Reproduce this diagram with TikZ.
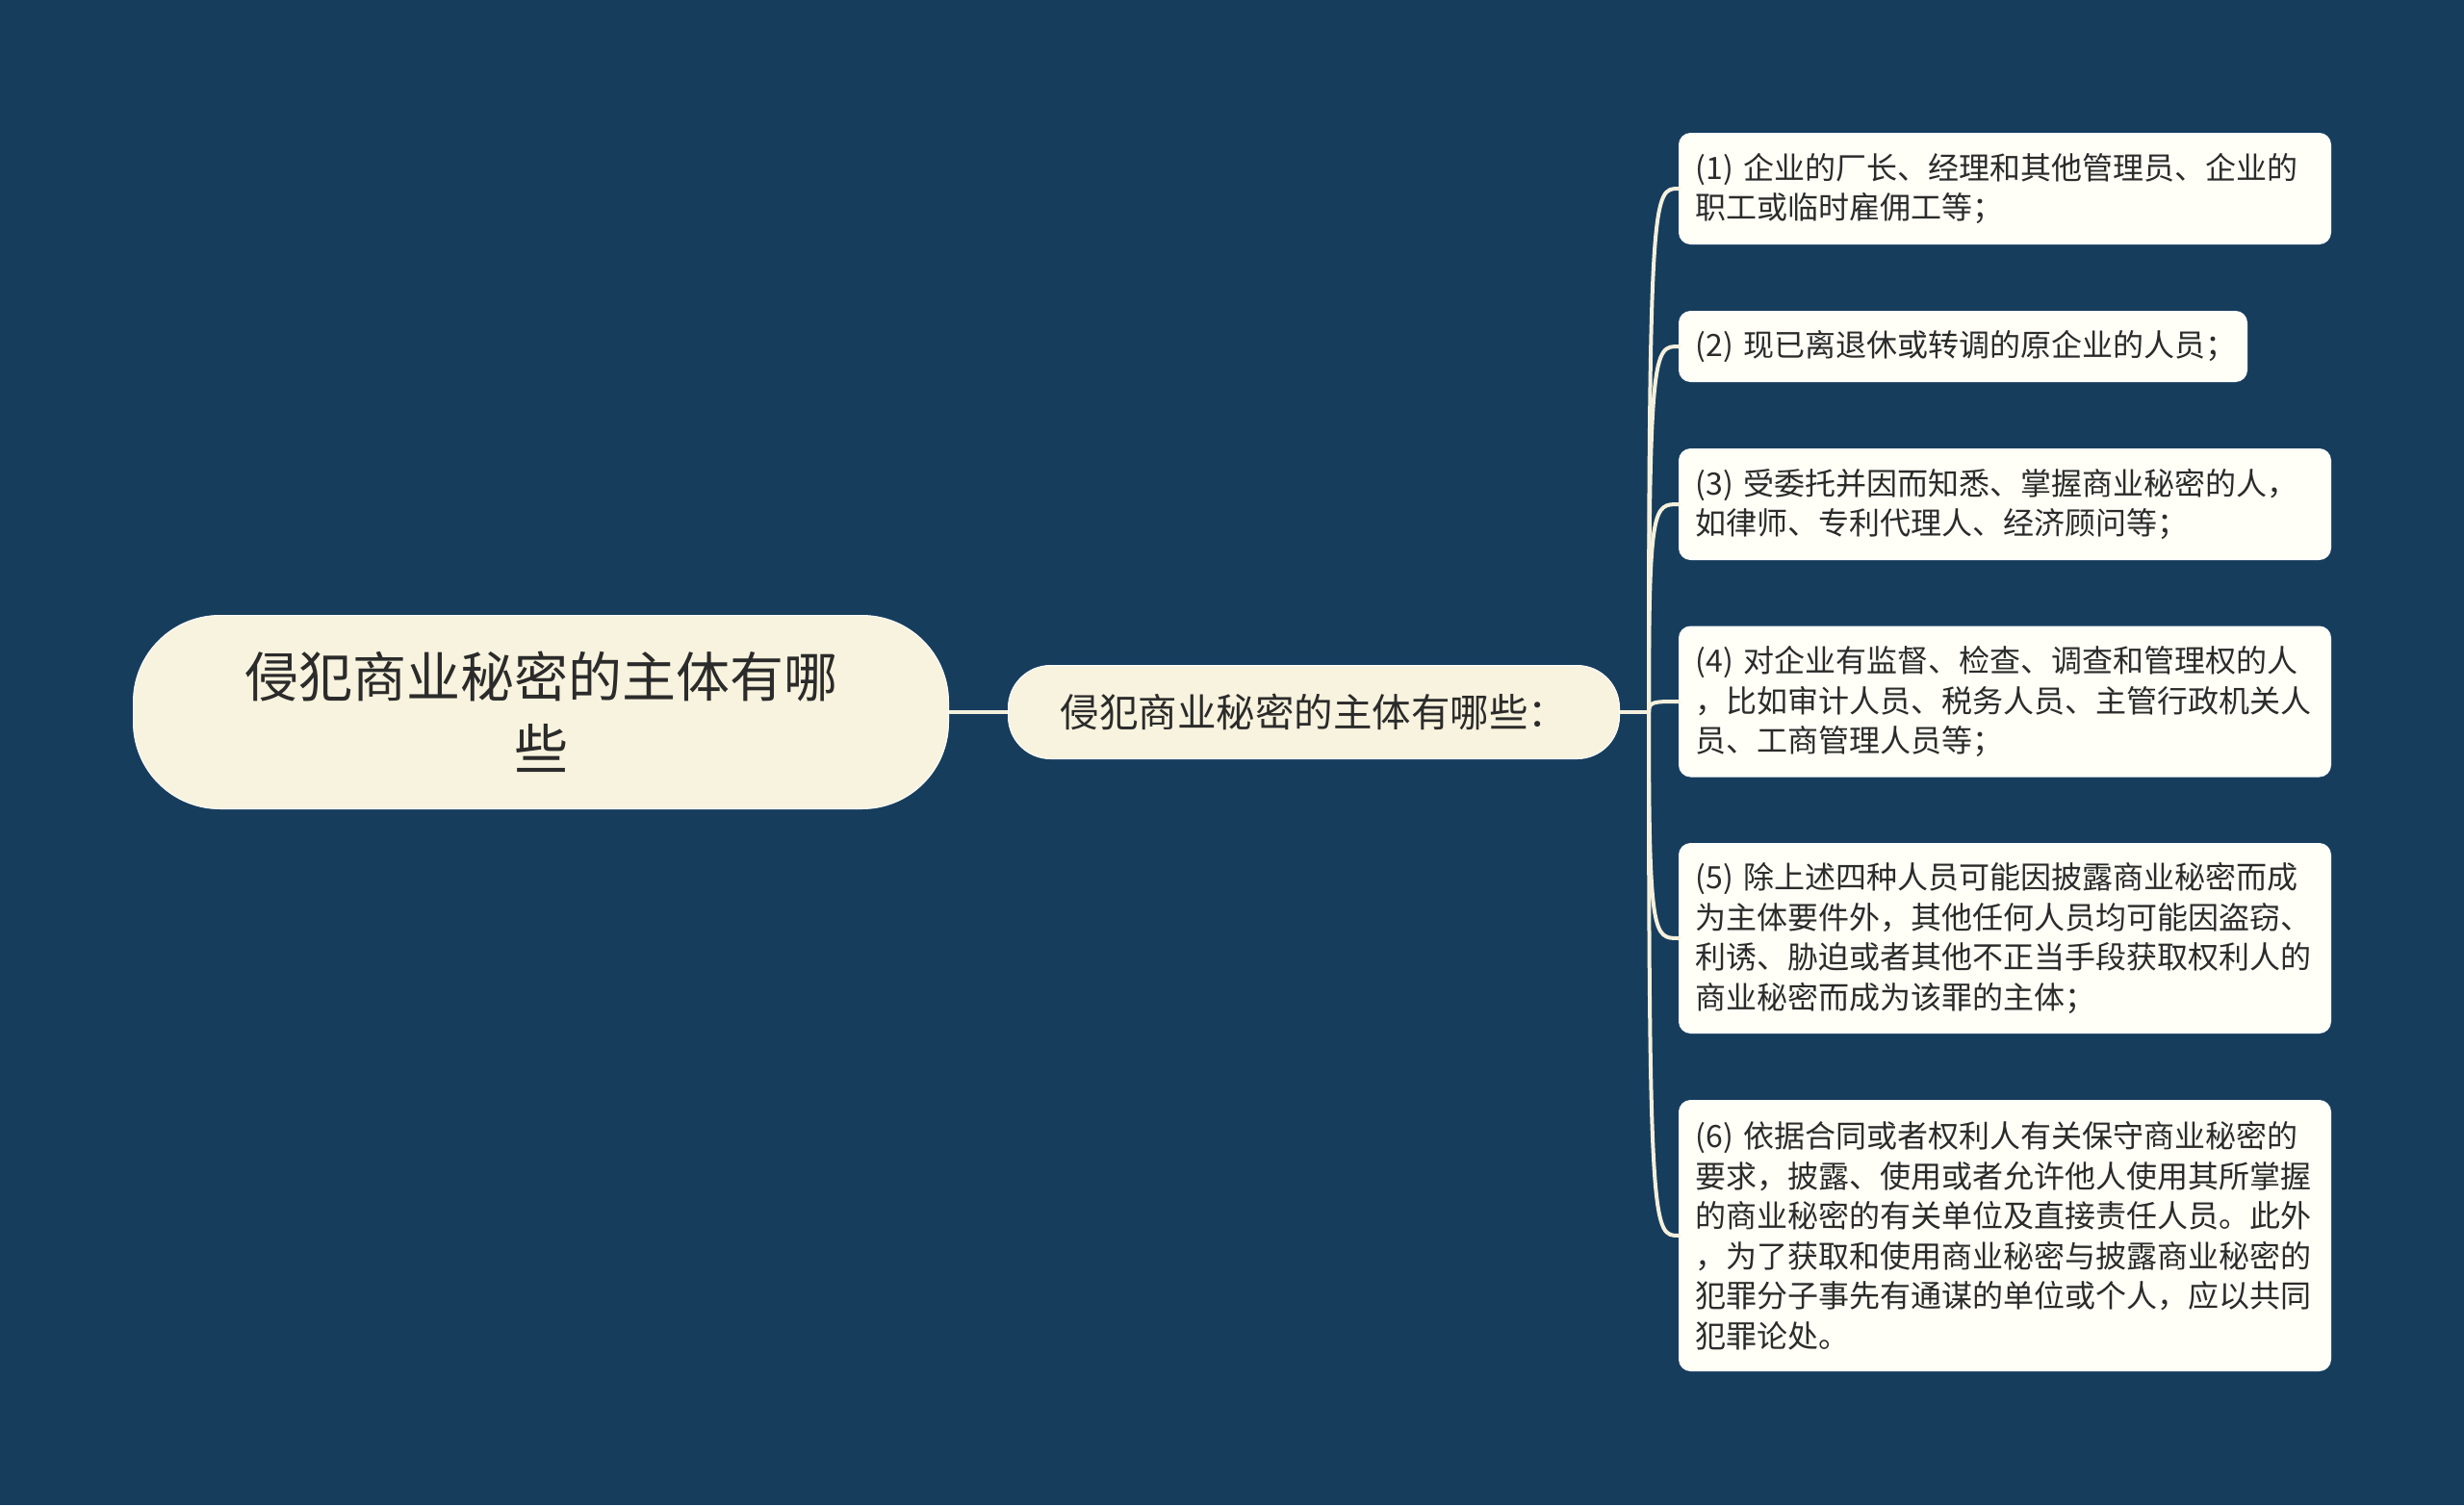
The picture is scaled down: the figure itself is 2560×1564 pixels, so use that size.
\documentclass[tikz,border=0pt]{standalone}
\usepackage{fontspec}
\setmainfont{Noto Sans CJK SC}
\definecolor{bgc}{HTML}{173D5D}
\definecolor{creamfill}{HTML}{F8F3DE}
\definecolor{leaffill}{HTML}{FFFFF7}
\definecolor{linec}{HTML}{F5F0DC}
\definecolor{textc}{HTML}{2B2B2B}
\begin{document}
\begin{tikzpicture}[x=1pt,y=-1pt,
  rootbox/.style={fill=creamfill, draw=white, line width=1pt, rounded corners=90pt,
    minimum width=847pt, minimum height=201pt, inner sep=0pt, align=center,
    text=textc, font=\fontsize{56}{75}\selectfont},
  mainbox/.style={fill=creamfill, draw=white, line width=1pt, rounded corners=44pt,
    minimum width=635pt, minimum height=97pt, inner sep=0pt, align=center,
    text=textc, font=\fontsize{40.5}{48}\selectfont},
  leafbox/.style={fill=leaffill, draw=white, line width=1pt, rounded corners=12pt,
    anchor=west, align=left, text width=643pt, inner xsep=17pt, inner ysep=0pt,
    text=textc, font=\fontsize{32}{41.5}\selectfont},
  conn/.style={draw=linec, line width=4pt}
]
\useasboundingbox (0,0) rectangle (2560,1564);
\fill[bgc] (0,0) rectangle (2560,1564);

\node[rootbox] (root) at (562,740) {侵犯商业秘密的主体有哪\\些};
\node[mainbox] (main) at (1365,740) {侵犯商业秘密的主体有哪些：};
\coordinate (br) at (1713,740);

\node[leafbox, minimum height=115pt] (l1) at (1744,196)
  {(1) 企业的厂长、经理和其他管理员、企业的\\职工或临时雇佣工等；};
\node[leafbox, minimum height=73pt, text width=556pt] (l2) at (1744,360)
  {(2) 现已离退休或转调的原企业的人员；};
\node[leafbox, minimum height=115pt] (l3) at (1744,524)
  {(3) 受委托并因而知悉、掌握商业秘密的人，\\如律师、专利代理人、经济顾问等；};
\node[leafbox, minimum height=156pt] (l4) at (1744,729)
  {(4) 对企业有监督、检查、调查和管理权的人\\，比如审计人员、税务人员、主管行政机关人\\员、工商管理人员等；};
\node[leafbox, minimum height=197pt] (l5) at (1744,975)
  {(5) 除上述四种人员可能因披露商业秘密而成\\为主体要件外，其他任何人员均可能因盗窃、\\利诱、胁迫或者其他不正当手段获取权利人的\\商业秘密而成为该罪的主体；};
\node[leafbox, minimum height=281pt] (l6) at (1744,1284)
  {(6) 依据合同或者权利人有关保守商业秘密的\\要求，披露、使用或者允许他人使用其所掌握\\的商业秘密的有关单位及直接责任人员。此外\\，为了获取和使用商业秘密与披露商业秘密的\\犯罪分子事先有通谋的单位或个人，应以共同\\犯罪论处。};

\draw[conn] (root.east) -- (main.west);
\draw[conn] (main.east) -- (br);
\foreach \n in {l1,l2,l3,l4,l5,l6}{
  \draw[conn, line cap=round] (br) .. controls (br |- \n.west) and ([xshift=5pt]br |- \n.west) .. (\n.west);
}
\end{tikzpicture}
\end{document}
